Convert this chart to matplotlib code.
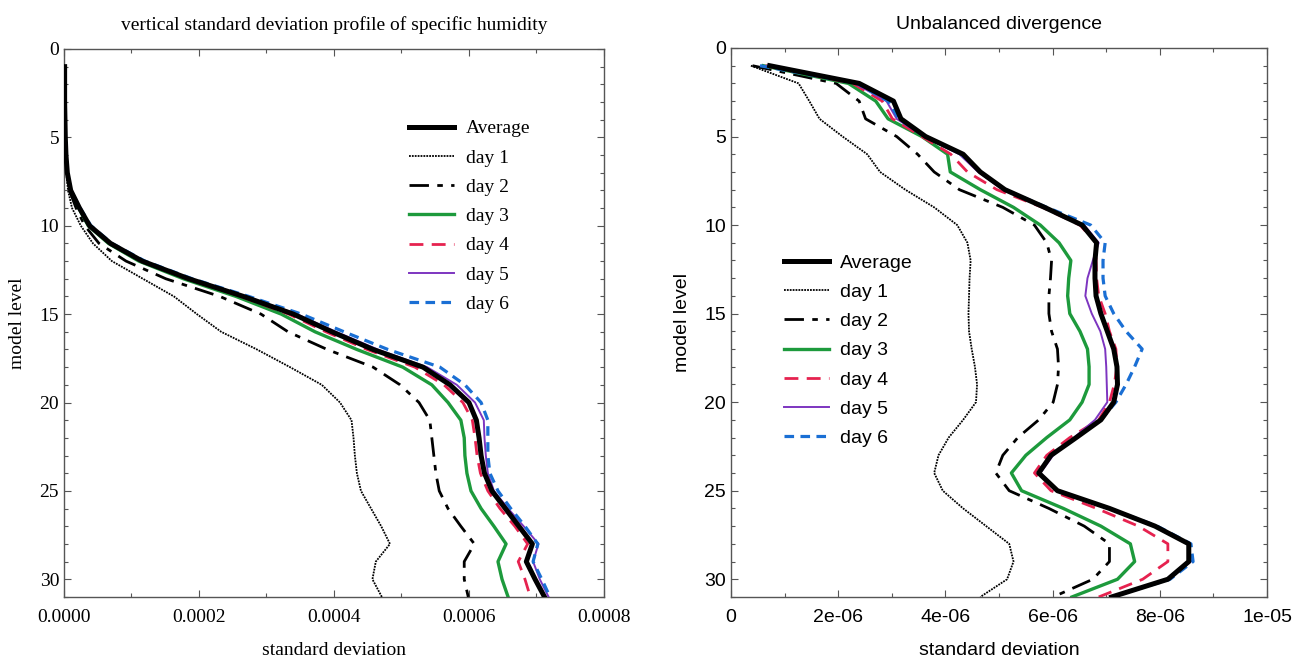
import matplotlib
matplotlib.use("Agg")
import matplotlib.pyplot as plt
from matplotlib.ticker import MultipleLocator, FuncFormatter

levels = list(range(1, 32))
series_names = ["Average", "day 1", "day 2", "day 3", "day 4", "day 5", "day 6"]

# specific humidity std dev, units of 1e-4
hum_avg = [0.01, 0.01, 0.01, 0.015, 0.02, 0.03, 0.05, 0.10, 0.23, 0.38, 0.69, 1.16, 1.85, 2.66, 3.40,
           3.97, 4.58, 5.32, 5.72, 6.00, 6.11, 6.15, 6.18, 6.23, 6.34, 6.54, 6.74, 6.94, 6.85, 6.98, 7.12]
hum_d1 = [0.01, 0.01, 0.01, 0.012, 0.015, 0.02, 0.035, 0.06, 0.12, 0.25, 0.43, 0.71, 1.17, 1.63, 1.97,
          2.33, 2.86, 3.35, 3.82, 4.09, 4.26, 4.29, 4.31, 4.34, 4.40, 4.55, 4.70, 4.83, 4.62, 4.57, 4.71]
hum_d2 = [0.01, 0.01, 0.01, 0.013, 0.018, 0.026, 0.045, 0.08, 0.18, 0.31, 0.52, 0.92, 1.51, 2.31, 2.92,
          3.32, 3.90, 4.58, 4.98, 5.26, 5.42, 5.45, 5.48, 5.51, 5.56, 5.69, 5.88, 6.08, 5.93, 5.93, 5.99]
hum_d3 = [0.01, 0.01, 0.01, 0.015, 0.02, 0.03, 0.05, 0.10, 0.22, 0.36, 0.66, 1.11, 1.77, 2.55, 3.22,
          3.72, 4.34, 5.02, 5.45, 5.69, 5.88, 5.93, 5.94, 5.97, 6.03, 6.18, 6.37, 6.55, 6.43, 6.49, 6.58]
hum_d4 = [0.01, 0.01, 0.01, 0.015, 0.02, 0.03, 0.05, 0.10, 0.23, 0.37, 0.68, 1.14, 1.82, 2.62, 3.33,
          3.88, 4.49, 5.20, 5.63, 5.91, 6.05, 6.09, 6.12, 6.17, 6.28, 6.46, 6.68, 6.87, 6.73, 6.83, 6.91]
hum_d5 = [0.01, 0.01, 0.01, 0.015, 0.02, 0.03, 0.05, 0.10, 0.23, 0.39, 0.70, 1.18, 1.88, 2.70, 3.45,
          4.03, 4.65, 5.38, 5.82, 6.09, 6.22, 6.23, 6.25, 6.28, 6.37, 6.58, 6.81, 7.03, 6.95, 7.05, 7.18]
hum_d6 = [0.01, 0.01, 0.01, 0.015, 0.02, 0.03, 0.05, 0.10, 0.24, 0.40, 0.71, 1.20, 1.90, 2.74, 3.52,
          4.15, 4.80, 5.57, 5.94, 6.18, 6.28, 6.28, 6.28, 6.31, 6.43, 6.62, 6.83, 7.02, 6.95, 7.08, 7.20]

# unbalanced divergence std dev, units of 1e-6
div_avg = [0.72, 2.39, 3.03, 3.17, 3.63, 4.33, 4.65, 5.11, 5.85, 6.55, 6.82, 6.79, 6.79, 6.81, 6.90,
           7.02, 7.14, 7.20, 7.21, 7.14, 6.90, 6.44, 5.97, 5.74, 6.09, 7.06, 7.91, 8.54, 8.54, 8.15, 7.10]
div_d1 = [0.37, 1.26, 1.46, 1.65, 2.08, 2.54, 2.78, 3.25, 3.79, 4.22, 4.41, 4.47, 4.45, 4.44, 4.43,
          4.44, 4.49, 4.55, 4.59, 4.57, 4.33, 4.06, 3.87, 3.79, 3.95, 4.33, 4.76, 5.19, 5.27, 5.15, 4.65]
div_d2 = [0.40, 1.96, 2.39, 2.51, 3.09, 3.48, 3.79, 4.26, 5.07, 5.66, 5.89, 5.98, 5.96, 5.93, 5.93,
          5.98, 6.09, 6.11, 6.09, 6.01, 5.74, 5.35, 5.07, 4.94, 5.19, 5.93, 6.59, 7.06, 7.06, 6.75, 6.01]
div_d3 = [0.60, 2.19, 2.70, 2.93, 3.56, 4.04, 4.09, 4.65, 5.27, 5.77, 6.12, 6.34, 6.30, 6.28, 6.32,
          6.51, 6.65, 6.68, 6.68, 6.55, 6.32, 5.89, 5.50, 5.23, 5.42, 6.20, 6.90, 7.45, 7.53, 7.21, 6.36]
div_d4 = [0.64, 2.27, 2.82, 3.01, 3.56, 4.10, 4.41, 4.96, 5.81, 6.51, 6.81, 6.81, 6.82, 6.86, 6.98,
          7.06, 7.18, 7.20, 7.15, 7.06, 6.86, 6.32, 5.89, 5.66, 5.97, 6.82, 7.60, 8.15, 8.15, 7.68, 6.86]
div_d5 = [0.68, 2.31, 2.90, 3.09, 3.60, 4.26, 4.61, 5.07, 5.85, 6.59, 6.86, 6.75, 6.65, 6.61, 6.73,
          6.89, 6.98, 7.00, 7.01, 7.02, 6.79, 6.40, 6.01, 5.77, 6.09, 7.06, 7.91, 8.54, 8.58, 8.15, 7.10]
div_d6 = [0.54, 2.35, 2.93, 3.13, 3.62, 4.30, 4.65, 5.11, 5.89, 6.71, 6.98, 6.94, 6.94, 6.98, 7.14,
          7.37, 7.67, 7.53, 7.37, 7.18, 6.90, 6.44, 5.97, 5.74, 6.09, 7.06, 7.95, 8.58, 8.62, 8.19, 7.10]

hum = [hum_avg, hum_d1, hum_d2, hum_d3, hum_d4, hum_d5, hum_d6]
div = [div_avg, div_d1, div_d2, div_d3, div_d4, div_d5, div_d6]

styles = [
    dict(color="black", lw=3.6, ls="-"),
    dict(color="black", lw=1.3, ls=(0, (1, 0.6))),
    dict(color="black", lw=2.0, ls=(0, (7, 3, 2, 3))),
    dict(color="#1d9a3c", lw=2.4, ls="-"),
    dict(color="#e6224f", lw=2.0, ls=(0, (5, 3))),
    dict(color="#7d35c0", lw=1.4, ls="-"),
    dict(color="#1a6fd4", lw=2.3, ls=(0, (3, 2))),
]
zorders = [9, 3, 3, 4, 5, 6, 7]


def style_axes(ax, font):
    ax.set_ylim(31, 0)
    ax.yaxis.set_major_locator(MultipleLocator(5))
    ax.yaxis.set_minor_locator(MultipleLocator(1))
    ax.tick_params(which="both", direction="in", top=True, right=True, colors="#555555",
                   labelcolor="black")
    ax.tick_params(which="major", length=5, width=0.8)
    ax.tick_params(which="minor", length=3, width=0.8)
    for s in ax.spines.values():
        s.set_color("#555555")
        s.set_linewidth(1.0)
    for lab in ax.get_xticklabels() + ax.get_yticklabels():
        lab.set_fontfamily(font)
        lab.set_fontsize(14)


fig = plt.figure(figsize=(13.05, 6.6), dpi=100)

# left panel: specific humidity (serif fonts)
ax1 = fig.add_axes([0.049, 0.0955, 0.4138, 0.8303])
for vals, st, z, name in zip(hum, styles, zorders, series_names):
    ax1.plot([v * 1e-4 for v in vals], levels, label=name, zorder=z, **st)
ax1.set_xlim(0, 0.0008)
ax1.xaxis.set_major_locator(MultipleLocator(0.0002))
ax1.xaxis.set_minor_locator(MultipleLocator(0.0001))
ax1.xaxis.set_major_formatter(FuncFormatter(lambda v, p: f"{v:.4f}"))
style_axes(ax1, "Liberation Serif")
ax1.tick_params(axis="x", pad=9)
ax1.set_title("vertical standard deviation profile of specific humidity",
              fontfamily="Liberation Serif", fontsize=14, pad=14)
ax1.set_xlabel("standard deviation", fontfamily="Liberation Serif", fontsize=14, labelpad=11)
ax1.set_ylabel("model level", fontfamily="Liberation Serif", fontsize=14, labelpad=10)
ax1.legend(loc="upper left", bbox_to_anchor=(0.625, 0.885), frameon=False,
           prop={"family": "Liberation Serif", "size": 14}, handlelength=2.3,
           handletextpad=0.6, labelspacing=0.6, borderaxespad=0)

# right panel: unbalanced divergence (sans fonts)
ax2 = fig.add_axes([0.5602, 0.0955, 0.4107, 0.8318])
for vals, st, z, name in zip(div, styles, zorders, series_names):
    ax2.plot([v * 1e-6 for v in vals], levels, label=name, zorder=z, **st)
ax2.set_xlim(0, 1e-5)
ax2.xaxis.set_major_locator(MultipleLocator(2e-6))
ax2.xaxis.set_minor_locator(MultipleLocator(1e-6))
ax2.xaxis.set_major_formatter(FuncFormatter(lambda v, p: "0" if abs(v) < 1e-12 else f"{v:.0e}"))
style_axes(ax2, "Liberation Sans")
ax2.tick_params(axis="x", pad=9)
ax2.set_title("Unbalanced divergence", fontfamily="Liberation Sans", fontsize=14, pad=14)
ax2.set_xlabel("standard deviation", fontfamily="Liberation Sans", fontsize=14, labelpad=11)
ax2.set_ylabel("model level", fontfamily="Liberation Sans", fontsize=14, labelpad=10)
ax2.legend(loc="upper left", bbox_to_anchor=(0.085, 0.639), frameon=False,
           prop={"family": "Liberation Sans", "size": 14}, handlelength=2.3,
           handletextpad=0.55, labelspacing=0.6, borderaxespad=0)

fig.savefig("out.png", dpi=100)
